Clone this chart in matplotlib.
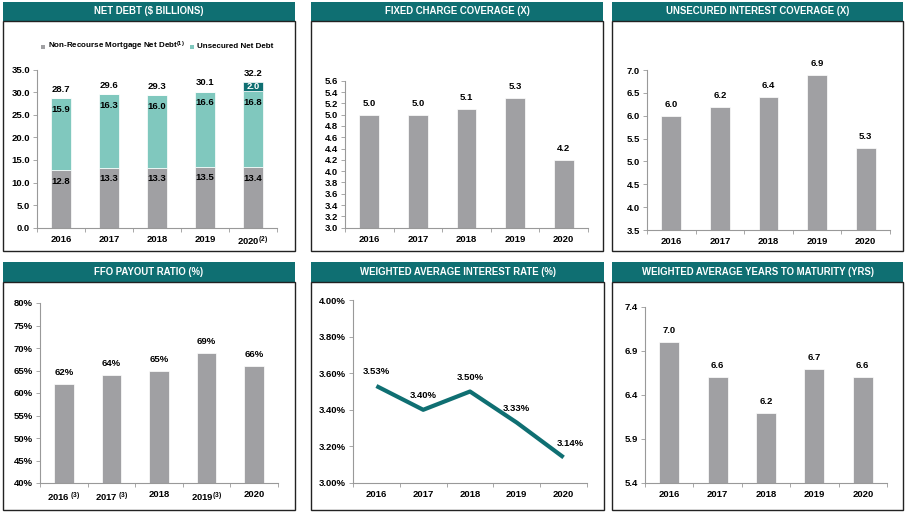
import matplotlib
matplotlib.use("Agg")
import matplotlib.pyplot as plt
import numpy as np
from matplotlib.patches import Rectangle

plt.rcParams['font.family'] = ['Liberation Sans', 'DejaVu Sans']
plt.rcParams['font.weight'] = 'bold'
plt.rcParams['mathtext.fontset'] = 'custom'
plt.rcParams['mathtext.rm'] = 'Liberation Sans:bold'
plt.rcParams['mathtext.default'] = 'rm'

# ---- data ----
years = ['2016', '2017', '2018', '2019', '2020']

mortgage_debt = [12.8, 13.3, 13.3, 13.5, 13.4]
unsecured_debt = [15.9, 16.3, 16.0, 16.6, 16.8]
unsecured_extra = [0, 0, 0, 0, 2.0]
net_debt_total = [28.7, 29.6, 29.3, 30.1, 32.2]
net_debt_ticks = ['2016', '2017', '2018', '2019', '2020$^{(2)}$']

fixed_charge = [5.0, 5.0, 5.1, 5.3, 4.2]
unsecured_cov = [6.0, 6.2, 6.4, 6.9, 5.3]
ffo_payout = [62, 64, 65, 69, 66]
ffo_ticks = ['2016$^{\\ (3)}$', '2017$^{\\ (3)}$', '2018', '2019$^{(3)}$', '2020']
interest_rate = [3.53, 3.40, 3.50, 3.33, 3.14]
years_maturity = [7.0, 6.6, 6.2, 6.7, 6.6]

TEAL = '#0f6f72'
LIGHT = '#80c8be'
GRAY = '#a0a0a3'
AXC = '#999999'
FS = 6.8

W, H = 906, 512
fig = plt.figure(figsize=(W / 100, H / 100), dpi=100)


def frac(x0, y0, x1, y1):
    return [x0 / W, 1 - y1 / H, (x1 - x0) / W, (y1 - y0) / H]


def panel(hdr, box, title):
    fig.patches.append(Rectangle((hdr[0] / W, 1 - hdr[3] / H), (hdr[2] - hdr[0]) / W,
                                 (hdr[3] - hdr[1]) / H, transform=fig.transFigure,
                                 facecolor=TEAL, edgecolor='none', zorder=0))
    fig.text((hdr[0] + hdr[2]) / 2 / W, 1 - (hdr[1] + hdr[3]) / 2 / H, title,
             color='white', fontsize=6.9, ha='center', va='center')
    fig.patches.append(Rectangle((box[0] / W, 1 - box[3] / H), (box[2] - box[0]) / W,
                                 (box[3] - box[1]) / H, transform=fig.transFigure,
                                 facecolor='none', edgecolor='#222222', lw=1.0, zorder=0))


def setup_axes(rect, ylim, yticks, yfmt, xlabels):
    ax = fig.add_axes(frac(*rect))
    ax.set_xlim(-0.5, 4.5)
    ax.set_ylim(*ylim)
    ax.set_yticks(yticks)
    ax.set_yticklabels([yfmt.format(v) for v in yticks], fontsize=FS)
    ax.set_xticks(np.arange(-0.5, 5, 1))
    ax.set_xticklabels([])
    ax.set_xticks(np.arange(5), minor=True)
    ax.set_xticklabels(xlabels, minor=True, fontsize=FS)
    ax.tick_params(axis='x', which='major', length=3, color=AXC, width=0.6)
    ax.tick_params(axis='x', which='minor', length=0, pad=5)
    ax.tick_params(axis='y', length=3, color=AXC, width=0.6, pad=2)
    for s in ['top', 'right']:
        ax.spines[s].set_visible(False)
    for s in ['left', 'bottom']:
        ax.spines[s].set_color(AXC)
        ax.spines[s].set_linewidth(0.8)
    ax.patch.set_alpha(0)
    return ax


def bar_labels(ax, vals, fmt, off):
    for i, v in enumerate(vals):
        ax.annotate(fmt.format(v), (i, v), xytext=(0, off), textcoords='offset points',
                    ha='center', va='bottom', fontsize=FS)


x = np.arange(5)
bw = 0.41

# ---- Net debt ----
panel((3, 2, 295, 21), (3, 21, 295, 251), 'NET DEBT ($ BILLIONS)')
ax = setup_axes((37, 69.5, 277, 227.7), (0, 35), np.arange(0, 35.1, 5), '{:.1f}', net_debt_ticks)
ax.bar(x, mortgage_debt, bw, color=GRAY, edgecolor='white', lw=0.5)
ax.bar(x, unsecured_debt, bw, bottom=mortgage_debt, color=LIGHT, edgecolor='white', lw=0.5)
bottom2 = np.array(mortgage_debt) + np.array(unsecured_debt)
ax.bar(x, unsecured_extra, bw, bottom=bottom2, color=TEAL, edgecolor='white', lw=0.5)
for i in range(5):
    ax.text(i, mortgage_debt[i] - 2.5, '{:.1f}'.format(mortgage_debt[i]), ha='center', va='center', fontsize=FS)
    ax.text(i, bottom2[i] - 2.5, '{:.1f}'.format(unsecured_debt[i]), ha='center', va='center', fontsize=FS)
    if unsecured_extra[i] > 0:
        ax.text(i, bottom2[i] + unsecured_extra[i] / 2, '{:.1f}'.format(unsecured_extra[i]),
                ha='center', va='center', fontsize=FS, color='white')
bar_labels(ax, net_debt_total, '{:.1f}', 3)
fig.patches.append(Rectangle((41 / W, 1 - 49 / H), 4 / W, 4 / H, transform=fig.transFigure,
                             facecolor=GRAY, edgecolor='none'))
fig.text(48 / W, 1 - 46.5 / H, 'Non-Recourse Mortgage Net Debt$^{(1)}$', fontsize=5.8, va='center')
fig.patches.append(Rectangle((190 / W, 1 - 49 / H), 4 / W, 4 / H, transform=fig.transFigure,
                             facecolor=LIGHT, edgecolor='none'))
fig.text(197 / W, 1 - 46.5 / H, 'Unsecured Net Debt', fontsize=5.8, va='center')

# ---- Fixed charge coverage ----
panel((311, 2, 603, 21), (311, 21, 603, 251), 'FIXED CHARGE COVERAGE (X)')
ax = setup_axes((345, 80.7, 588, 227.7), (3.0, 5.6), np.round(np.arange(3.0, 5.61, 0.2), 1), '{:.1f}', years)
ax.bar(x, fixed_charge, bw, color=GRAY, edgecolor='white', lw=0.5)
bar_labels(ax, fixed_charge, '{:.1f}', 5)

# ---- Unsecured interest coverage ----
panel((612, 2, 903, 21), (612, 21, 903, 251), 'UNSECURED INTEREST COVERAGE (X)')
ax = setup_axes((647, 70, 890, 230), (3.5, 7.0), np.arange(3.5, 7.01, 0.5), '{:.1f}', years)
ax.bar(x, unsecured_cov, bw, color=GRAY, edgecolor='white', lw=0.5)
bar_labels(ax, unsecured_cov, '{:.1f}', 5)

# ---- FFO payout ----
panel((3, 262, 295, 282), (3, 282, 295, 510), 'FFO PAYOUT RATIO (%)')
ax = setup_axes((40, 303, 278, 483), (40, 80), np.arange(40, 81, 5), '{:.0f}%', ffo_ticks)
ax.bar(x, ffo_payout, bw, color=GRAY, edgecolor='white', lw=0.5)
bar_labels(ax, ffo_payout, '{:.0f}%', 5)

# ---- Weighted average interest rate ----
panel((311, 262, 604, 282), (311, 282, 604, 510), 'WEIGHTED AVERAGE INTEREST RATE (%)')
ax = setup_axes((353, 300, 587, 483), (3.0, 4.0), np.round(np.arange(3.0, 4.01, 0.2), 1), '{:.2f}%', years)
ax.plot(x, interest_rate, color=TEAL, lw=3.0, solid_capstyle='butt')
for i, v in enumerate(interest_rate):
    ax.annotate('{:.2f}%'.format(v), (i, v), xytext=(5 if i == 4 else 0, 7), textcoords='offset points',
                ha='center', va='bottom', fontsize=FS)

# ---- Weighted average years to maturity ----
panel((612, 262, 903, 282), (612, 282, 903, 510), 'WEIGHTED AVERAGE YEARS TO MATURITY (YRS)')
ax = setup_axes((645, 307, 887, 483), (5.4, 7.4), np.round(np.arange(5.4, 7.41, 0.5), 1), '{:.1f}', years)
ax.bar(x, years_maturity, bw, color=GRAY, edgecolor='white', lw=0.5)
bar_labels(ax, years_maturity, '{:.1f}', 5)

fig.savefig('out.png', dpi=100)
